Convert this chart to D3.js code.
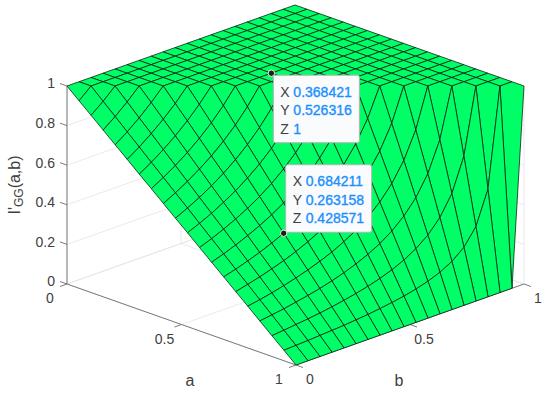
<!DOCTYPE html>
<html>
<head>
<meta charset="utf-8">
<script src="https://cdnjs.cloudflare.com/ajax/libs/d3/7.8.5/d3.min.js"></script>
<style>
    html, body { margin: 0; padding: 0; background: #fff; }
    svg { display: block; }
    text { font-family: "Liberation Sans", Arial, sans-serif; fill: #404040; }
</style>
</head>
<body>
<svg id="chart" width="550" height="393"></svg>
<script>
const aValues = [0, 0.052632, 0.105263, 0.157895, 0.210526, 0.263158, 0.315789, 0.368421, 0.421053, 0.473684, 0.526316, 0.578947, 0.631579, 0.684211, 0.736842, 0.789474, 0.842105, 0.894737, 0.947368, 1];
const bValues = [0, 0.052632, 0.105263, 0.157895, 0.210526, 0.263158, 0.315789, 0.368421, 0.421053, 0.473684, 0.526316, 0.578947, 0.631579, 0.684211, 0.736842, 0.789474, 0.842105, 0.894737, 0.947368, 1];

// one row per a value, one column per b value
const zValues = [
    [1, 1, 1, 1, 1, 1, 1, 1, 1, 1, 1, 1, 1, 1, 1, 1, 1, 1, 1, 1],
    [.947, 1, 1, 1, 1, 1, 1, 1, 1, 1, 1, 1, 1, 1, 1, 1, 1, 1, 1, 1],
    [.895, .944, 1, 1, 1, 1, 1, 1, 1, 1, 1, 1, 1, 1, 1, 1, 1, 1, 1, 1],
    [.842, .889, .941, 1, 1, 1, 1, 1, 1, 1, 1, 1, 1, 1, 1, 1, 1, 1, 1, 1],
    [.789, .833, .882, .938, 1, 1, 1, 1, 1, 1, 1, 1, 1, 1, 1, 1, 1, 1, 1, 1],
    [.737, .778, .824, .875, .933, 1, 1, 1, 1, 1, 1, 1, 1, 1, 1, 1, 1, 1, 1, 1],
    [.684, .722, .765, .813, .867, .929, 1, 1, 1, 1, 1, 1, 1, 1, 1, 1, 1, 1, 1, 1],
    [.632, .667, .706, .75, .8, .857, .923, 1, 1, 1, 1, 1, 1, 1, 1, 1, 1, 1, 1, 1],
    [.579, .611, .647, .688, .733, .786, .846, .917, 1, 1, 1, 1, 1, 1, 1, 1, 1, 1, 1, 1],
    [.526, .556, .588, .625, .667, .714, .769, .833, .909, 1, 1, 1, 1, 1, 1, 1, 1, 1, 1, 1],
    [.474, .5, .529, .563, .6, .643, .692, .75, .818, .9, 1, 1, 1, 1, 1, 1, 1, 1, 1, 1],
    [.421, .444, .471, .5, .533, .571, .615, .667, .727, .8, .889, 1, 1, 1, 1, 1, 1, 1, 1, 1],
    [.368, .389, .412, .438, .467, .5, .538, .583, .636, .7, .778, .875, 1, 1, 1, 1, 1, 1, 1, 1],
    [.316, .333, .353, .375, .4, .429, .462, .5, .545, .6, .667, .75, .857, 1, 1, 1, 1, 1, 1, 1],
    [.263, .278, .294, .313, .333, .357, .385, .417, .455, .5, .556, .625, .714, .833, 1, 1, 1, 1, 1, 1],
    [.211, .222, .235, .25, .267, .286, .308, .333, .364, .4, .444, .5, .571, .667, .8, 1, 1, 1, 1, 1],
    [.158, .167, .176, .188, .2, .214, .231, .25, .273, .3, .333, .375, .429, .5, .6, .75, 1, 1, 1, 1],
    [.105, .111, .118, .125, .133, .143, .154, .167, .182, .2, .222, .25, .286, .333, .4, .5, .667, 1, 1, 1],
    [.053, .056, .059, .063, .067, .071, .077, .083, .091, .1, .111, .125, .143, .167, .2, .25, .333, .5, 1, 1],
    [0, 0, 0, 0, 0, 0, 0, 0, 0, 0, 0, 0, 0, 0, 0, 0, 0, 0, 0, 1]
];

const abTicks = [0, 0.5, 1];
const zTicks = [0, 0.2, 0.4, 0.6, 0.8, 1];

const tipX = [0.368421, 0.684211];
const tipY = [0.526316, 0.263158];
const tipZ = [1, 0.428571];

const svg = d3.select('#chart');

// orthographic view: every axis is a straight screen offset
const aToX = d3.scaleLinear().domain([0, 1]).range([0, 229]);
const aToY = d3.scaleLinear().domain([0, 1]).range([0, 81]);
const bToX = d3.scaleLinear().domain([0, 1]).range([0, 228]);
const bToY = d3.scaleLinear().domain([0, 1]).range([0, -81]);
const zToY = d3.scaleLinear().domain([0, 1]).range([284, 86]);
const originX = 67;

function project(a, b, z) {
    return [originX + aToX(a) + bToX(b), zToY(z) + aToY(a) + bToY(b)];
}

const line = d3.line();

function drawGrid() {
    let g = svg.append('g')
        .attr('fill', 'none')
        .attr('stroke', '#e4e4e4')
        .attr('stroke-width', 0.8);

    zTicks.forEach(z => {
        g.append('path').attr('d', line([project(0, 0, z), project(0, 1, z), project(1, 1, z)]));
    });
    abTicks.forEach(t => {
        g.append('path').attr('d', line([project(t, 0, 0), project(t, 1, 0), project(t, 1, 1)]));
        g.append('path').attr('d', line([project(1, t, 0), project(0, t, 0), project(0, t, 1)]));
    });
}

function drawAxes() {
    let g = svg.append('g')
        .attr('fill', 'none')
        .attr('stroke', '#7a7a7a')
        .attr('stroke-width', 1);

    g.append('path').attr('d', line([project(0, 0, 1), project(0, 0, 0), project(1, 0, 0), project(1, 1, 0)]));

    let tickDx = 7;
    let tickDy = 2.5;

    zTicks.forEach(z => {
        let p = project(0, 0, z);
        g.append('path').attr('d', line([p, [p[0] - tickDx, p[1] - tickDy]]));
        svg.append('text')
            .attr('x', 55)
            .attr('y', p[1] - 2.6)
            .attr('dy', '0.36em')
            .attr('text-anchor', 'end')
            .attr('font-size', 14)
            .text(d3.format('~g')(z));
    });

    abTicks.forEach(t => {
        let pa = project(t, 0, 0);
        g.append('path').attr('d', line([pa, [pa[0] - tickDx, pa[1] + tickDy]]));
        svg.append('text')
            .attr('x', pa[0] - 17)
            .attr('y', pa[1] + 14)
            .attr('dy', '0.36em')
            .attr('text-anchor', 'middle')
            .attr('font-size', 14)
            .text(d3.format('~g')(t));

        let pb = project(1, t, 0);
        g.append('path').attr('d', line([pb, [pb[0] + tickDx, pb[1] + tickDy]]));
        svg.append('text')
            .attr('x', pb[0] + 14)
            .attr('y', pb[1] + 14)
            .attr('dy', '0.36em')
            .attr('text-anchor', 'middle')
            .attr('font-size', 14)
            .text(d3.format('~g')(t));
    });

    svg.append('text').attr('x', 190).attr('y', 386).attr('text-anchor', 'middle').attr('font-size', 16).text('a');
    svg.append('text').attr('x', 399).attr('y', 386).attr('text-anchor', 'middle').attr('font-size', 16).text('b');

    let ylabel = svg.append('text')
        .attr('transform', 'translate(20,185) rotate(-90)')
        .attr('text-anchor', 'middle')
        .attr('font-size', 16);

    ylabel.append('tspan').text("I'");
    ylabel.append('tspan').attr('dy', 3).attr('font-size', 12).text('GG');
    ylabel.append('tspan').attr('dy', -3).text('(a,b)');
}

function drawSurface() {
    let cells = [];

    for (let i = 0; i < aValues.length - 1; i++) {
        for (let j = 0; j < bValues.length - 1; j++) {
            cells.push({
                depth: i - j,
                corners: [
                    project(aValues[i], bValues[j], zValues[i][j]),
                    project(aValues[i + 1], bValues[j], zValues[i + 1][j]),
                    project(aValues[i + 1], bValues[j + 1], zValues[i + 1][j + 1]),
                    project(aValues[i], bValues[j + 1], zValues[i][j + 1])
                ]
            });
        }
    }

    // far cells first, the near corner is a = 1, b = 0
    cells.sort((p, q) => p.depth - q.depth);

    svg.append('g')
        .selectAll('path')
        .data(cells)
        .enter()
        .append('path')
        .attr('d', d => line(d.corners) + 'Z')
        .attr('fill', '#00ff66')
        .attr('stroke', '#0a1a10')
        .attr('stroke-width', 0.75)
        .attr('stroke-linejoin', 'round');
}

function drawTips() {
    tipX.forEach((x, i) => {
        let p = project(x, tipY[i], tipZ[i]);
        let g = svg.append('g').attr('transform', `translate(${p[0]},${p[1]})`);
        let top = i === 0 ? 2 : -68.5;

        g.append('rect')
            .attr('x', 2)
            .attr('y', top)
            .attr('width', 86)
            .attr('height', 67.5)
            .attr('rx', 2)
            .attr('fill', '#fafbfd')
            .attr('stroke', '#b4b4b4')
            .attr('stroke-width', 1);

        let rows = [['X', x], ['Y', tipY[i]], ['Z', tipZ[i]]];

        rows.forEach((row, k) => {
            let y = top + 16.7 + k * 18.3;
            g.append('text')
                .attr('x', 9)
                .attr('y', y)
                .attr('dy', '0.36em')
                .attr('font-size', 14)
                .text(row[0]);
            g.append('text')
                .attr('x', 22)
                .attr('y', y)
                .attr('dy', '0.36em')
                .attr('font-size', 14)
                .style('fill', '#1a90ff')
                .style('stroke', '#1a90ff')
                .style('stroke-width', 0.35)
                .text(String(row[1]));
        });

        g.append('circle')
            .attr('r', 3.2)
            .attr('fill', '#1c1c1c')
            .attr('stroke', '#f4f0dc')
            .attr('stroke-width', 1);
    });
}

drawGrid();
drawAxes();
drawSurface();
drawTips();
</script>
</body>
</html>
